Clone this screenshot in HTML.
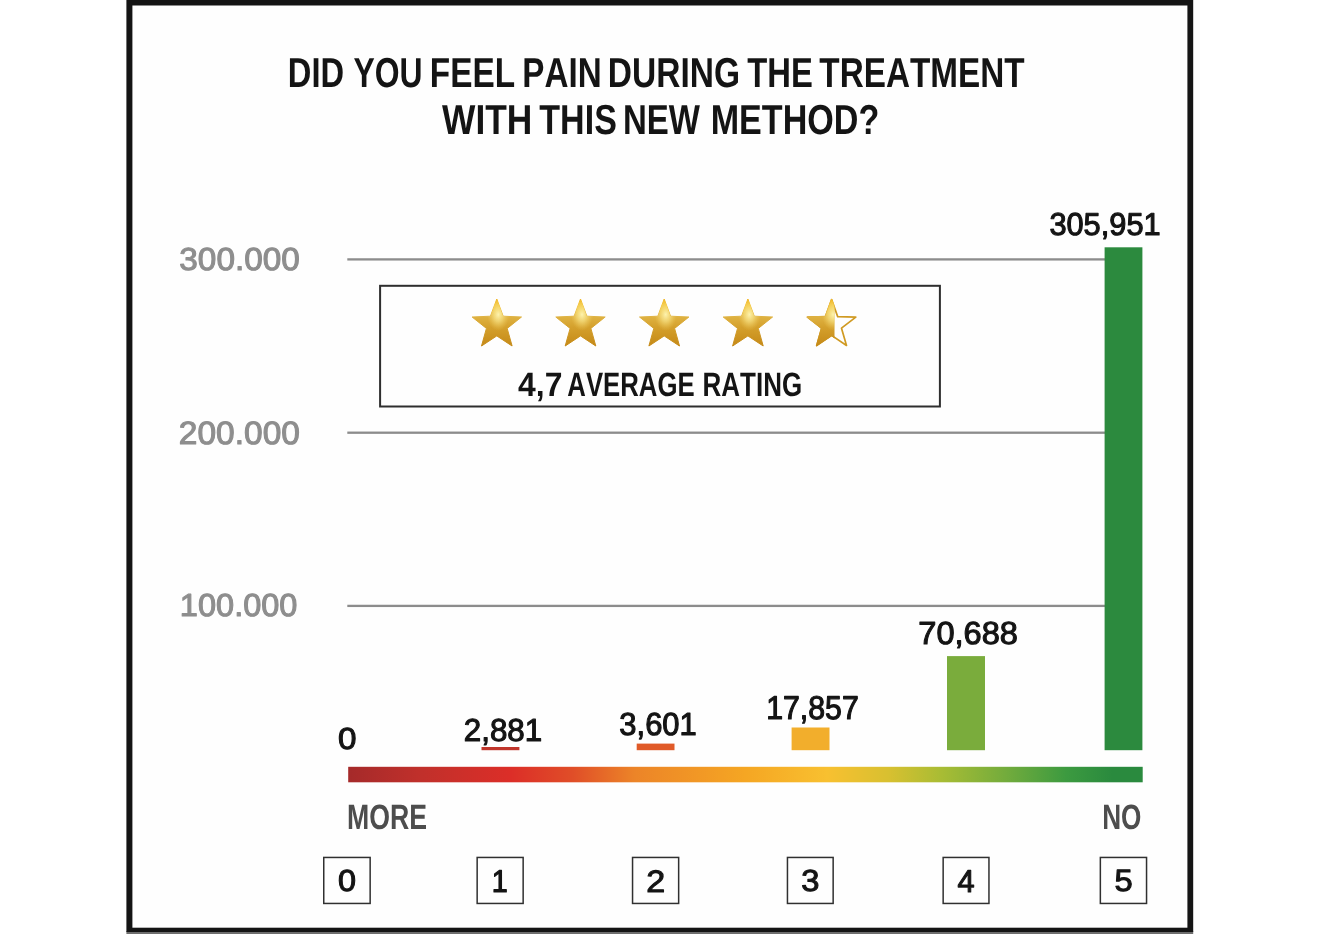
<!DOCTYPE html>
<html lang="en">
<head>
<meta charset="utf-8">
<title>Did you feel pain during the treatment with this new method?</title>
<style>
html,body{margin:0;padding:0;background:#fff;}
body{width:1320px;height:934px;overflow:hidden;}
svg{display:block;}
text{font-family:"Liberation Sans",sans-serif;font-size:40px;font-kerning:none;text-rendering:geometricPrecision;}
</style>
</head>
<body>
<svg width="1320" height="934" viewBox="0 0 1320 934">
<defs>
<linearGradient id="scale" x1="0" y1="0" x2="1" y2="0">
<stop offset="0" stop-color="#a52a2a"/>
<stop offset="0.09" stop-color="#c0302b"/>
<stop offset="0.205" stop-color="#dc2e28"/>
<stop offset="0.283" stop-color="#e04e28"/>
<stop offset="0.36" stop-color="#ec8428"/>
<stop offset="0.5" stop-color="#f5a623"/>
<stop offset="0.603" stop-color="#f8c030"/>
<stop offset="0.68" stop-color="#d8c030"/>
<stop offset="0.747" stop-color="#a8bc34"/>
<stop offset="0.826" stop-color="#74ac3c"/>
<stop offset="0.904" stop-color="#3c9a40"/>
<stop offset="0.962" stop-color="#2a8a3e"/>
<stop offset="1" stop-color="#2a8a3e"/>
</linearGradient>
<linearGradient id="gold" gradientUnits="userSpaceOnUse" x1="0" y1="298" x2="0" y2="347">
<stop offset="0" stop-color="#efb21c"/>
<stop offset="0.14" stop-color="#f3c236"/>
<stop offset="0.36" stop-color="#e0b444"/>
<stop offset="0.6" stop-color="#d4a02c"/>
<stop offset="1" stop-color="#c48816"/>
</linearGradient>
<radialGradient id="shine" cx="0.53" cy="0.33" r="0.3" gradientTransform="translate(0.53 0.33) scale(0.75 1.15) translate(-0.53 -0.33)">
<stop offset="0" stop-color="#fff6b4" stop-opacity="0.95"/>
<stop offset="0.45" stop-color="#fbe88c" stop-opacity="0.6"/>
<stop offset="1" stop-color="#f4d060" stop-opacity="0"/>
</radialGradient>
<filter id="soft" filterUnits="userSpaceOnUse" x="-20" y="-20" width="1360" height="974" color-interpolation-filters="sRGB"><feGaussianBlur stdDeviation="0.55"/></filter>
<clipPath id="half"><rect x="800" y="290" width="34.5" height="65"/></clipPath>
</defs>

<g filter="url(#soft)">
<rect x="-20" y="-20" width="1360" height="974" fill="#ffffff"/>
<rect x="126.4" y="931" width="1066.8" height="20" fill="#6e6e6e"/>
<rect x="126.4" y="-20" width="1066.8" height="952" fill="#141414"/>
<rect x="132.4" y="5.5" width="1055" height="922.2" fill="#fefefe"/>
<g>
<text transform="matrix(0.8167 0 0 1.0465 287.81 87.00)" font-weight="bold" fill="#141414">DID</text>
<text transform="matrix(0.7971 0 0 1.0465 353.46 87.00)" font-weight="bold" fill="#141414">YOU</text>
<text transform="matrix(0.8340 0 0 1.0465 429.77 87.00)" font-weight="bold" fill="#141414">FEEL</text>
<text transform="matrix(0.8304 0 0 1.0465 522.28 87.00)" font-weight="bold" fill="#141414">PAIN</text>
<text transform="matrix(0.8380 0 0 1.0465 607.76 87.00)" font-weight="bold" fill="#141414">DURING</text>
<text transform="matrix(0.8194 0 0 1.0465 747.23 87.00)" font-weight="bold" fill="#141414">THE</text>
<text transform="matrix(0.8321 0 0 1.0465 819.33 87.00)" font-weight="bold" fill="#141414">TREATMENT</text>
<text transform="matrix(0.8838 0 0 1.0465 442.07 134.00)" font-weight="bold" fill="#141414">WITH</text>
<text transform="matrix(0.8507 0 0 1.0465 539.32 134.00)" font-weight="bold" fill="#141414">THIS</text>
<text transform="matrix(0.8256 0 0 1.0465 622.99 134.00)" font-weight="bold" fill="#141414">NEW</text>
<text transform="matrix(0.8523 0 0 1.0465 710.72 134.00)" font-weight="bold" fill="#141414">METHOD?</text>
</g>
<rect x="347.3" y="258.25" width="758" height="2.3" fill="#8c8c8c"/>
<rect x="347.3" y="431.55" width="758" height="2.3" fill="#8c8c8c"/>
<rect x="347.3" y="604.75" width="758" height="2.3" fill="#8c8c8c"/>
<text transform="matrix(0.8339 0 0 0.7945 179.28 269.64)" font-weight="normal" fill="#8e8e8e" stroke="#8e8e8e" stroke-width="1.351" stroke-linejoin="round">300.000</text>
<text transform="matrix(0.8368 0 0 0.8086 178.87 443.63)" font-weight="normal" fill="#8e8e8e" stroke="#8e8e8e" stroke-width="1.337" stroke-linejoin="round">200.000</text>
<text transform="matrix(0.8130 0 0 0.7945 179.87 615.94)" font-weight="normal" fill="#8e8e8e" stroke="#8e8e8e" stroke-width="1.369" stroke-linejoin="round">100.000</text>
<rect x="380.1" y="285.8" width="559.8" height="120.7" fill="#fefefe" stroke="#2e2e2e" stroke-width="2"/>
<polygon points="496.8,299.0 503.2,316.2 521.5,317.0 507.2,328.4 512.1,346.0 496.8,335.9 481.5,346.0 486.4,328.4 472.1,317.0 490.4,316.2" fill="url(#gold)" stroke="url(#gold)" stroke-width="1" stroke-linejoin="round"/>
<polygon points="496.8,299.0 503.2,316.2 521.5,317.0 507.2,328.4 512.1,346.0 496.8,335.9 481.5,346.0 486.4,328.4 472.1,317.0 490.4,316.2" fill="url(#shine)"/>
<polygon points="580.5,299.0 586.9,316.2 605.2,317.0 590.9,328.4 595.8,346.0 580.5,335.9 565.2,346.0 570.1,328.4 555.8,317.0 574.1,316.2" fill="url(#gold)" stroke="url(#gold)" stroke-width="1" stroke-linejoin="round"/>
<polygon points="580.5,299.0 586.9,316.2 605.2,317.0 590.9,328.4 595.8,346.0 580.5,335.9 565.2,346.0 570.1,328.4 555.8,317.0 574.1,316.2" fill="url(#shine)"/>
<polygon points="664.2,299.0 670.6,316.2 688.9,317.0 674.6,328.4 679.5,346.0 664.2,335.9 648.9,346.0 653.8,328.4 639.5,317.0 657.8,316.2" fill="url(#gold)" stroke="url(#gold)" stroke-width="1" stroke-linejoin="round"/>
<polygon points="664.2,299.0 670.6,316.2 688.9,317.0 674.6,328.4 679.5,346.0 664.2,335.9 648.9,346.0 653.8,328.4 639.5,317.0 657.8,316.2" fill="url(#shine)"/>
<polygon points="747.9,299.0 754.3,316.2 772.6,317.0 758.3,328.4 763.2,346.0 747.9,335.9 732.6,346.0 737.5,328.4 723.2,317.0 741.5,316.2" fill="url(#gold)" stroke="url(#gold)" stroke-width="1" stroke-linejoin="round"/>
<polygon points="747.9,299.0 754.3,316.2 772.6,317.0 758.3,328.4 763.2,346.0 747.9,335.9 732.6,346.0 737.5,328.4 723.2,317.0 741.5,316.2" fill="url(#shine)"/>
<polygon points="831.6,299.6 837.7,316.6 855.8,317.2 841.5,328.2 846.5,345.5 831.6,335.4 816.7,345.5 821.7,328.2 807.4,317.2 825.5,316.6" fill="#fefefe" stroke="#d09a22" stroke-width="1.7" stroke-linejoin="round"/>
<g clip-path="url(#half)"><polygon points="831.6,299.0 838.0,316.2 856.3,317.0 842.0,328.4 846.9,346.0 831.6,335.9 816.3,346.0 821.2,328.4 806.9,317.0 825.2,316.2" fill="url(#gold)" stroke="url(#gold)" stroke-width="1" stroke-linejoin="round"/>
<polygon points="831.6,299.0 838.0,316.2 856.3,317.0 842.0,328.4 846.9,346.0 831.6,335.9 816.3,346.0 821.2,328.4 806.9,317.0 825.2,316.2" fill="url(#shine)"/></g>
<text transform="matrix(0.7964 0 0 0.8430 518.12 395.50)" font-weight="bold" fill="#141414">4,7</text>
<text transform="matrix(0.6433 0 0 0.8430 567.36 395.50)" font-weight="bold" fill="#141414">AVERAGE</text>
<text transform="matrix(0.6493 0 0 0.8430 702.56 395.50)" font-weight="bold" fill="#141414">RATING</text>
<rect x="481.5" y="747" width="37.9" height="3.2" fill="#c0352b"/>
<rect x="636.7" y="743.6" width="37.8" height="6.6" fill="#e05a28"/>
<rect x="791.6" y="727.5" width="37.9" height="22.7" fill="#f2ae2c"/>
<rect x="947" y="656.1" width="38.0" height="94.1" fill="#7aac3c"/>
<rect x="1104.6" y="247.3" width="37.8" height="502.9" fill="#2c8a3e"/>
<rect x="348.2" y="766.8" width="794.5" height="15.5" fill="url(#scale)"/>
<text transform="matrix(0.8315 0 0 0.7627 338.05 748.85)" font-weight="normal" fill="#141414" stroke="#141414" stroke-width="1.381" stroke-linejoin="round">0</text>
<text transform="matrix(0.7833 0 0 0.7945 463.77 740.64)" font-weight="normal" fill="#141414" stroke="#141414" stroke-width="1.394" stroke-linejoin="round">2,881</text>
<text transform="matrix(0.7731 0 0 0.7980 619.37 734.64)" font-weight="normal" fill="#141414" stroke="#141414" stroke-width="1.400" stroke-linejoin="round">3,601</text>
<text transform="matrix(0.7571 0 0 0.8227 766.14 719.33)" font-weight="normal" fill="#141414" stroke="#141414" stroke-width="1.394" stroke-linejoin="round">17,857</text>
<text transform="matrix(0.8140 0 0 0.7980 918.28 644.44)" font-weight="normal" fill="#141414" stroke="#141414" stroke-width="1.365" stroke-linejoin="round">70,688</text>
<text transform="matrix(0.7696 0 0 0.7910 1049.38 235.34)" font-weight="normal" fill="#141414" stroke="#141414" stroke-width="1.410" stroke-linejoin="round">305,951</text>
<text transform="matrix(0.6669 0 0 0.8794 347.02 829.40)" font-weight="bold" fill="#4d4d4d">MORE</text>
<text transform="matrix(0.6542 0 0 0.8794 1102.15 829.40)" font-weight="bold" fill="#4d4d4d">NO</text>
<rect x="323.75" y="857.45" width="46.40" height="46.00" fill="#fefefe" stroke="#303030" stroke-width="1.5"/>
<text transform="matrix(0.8106 0 0 0.7627 337.93 891.25)" font-weight="normal" fill="#141414" stroke="#141414" stroke-width="1.399" stroke-linejoin="round">0</text>
<rect x="477.15" y="857.45" width="46.00" height="46.00" fill="#fefefe" stroke="#303030" stroke-width="1.5"/>
<text transform="matrix(0.7190 0 0 0.7849 491.76 891.55)" font-weight="normal" fill="#141414" stroke="#141414" stroke-width="1.464" stroke-linejoin="round">1</text>
<rect x="632.55" y="857.45" width="46.10" height="46.00" fill="#fefefe" stroke="#303030" stroke-width="1.5"/>
<text transform="matrix(0.8506 0 0 0.7734 646.14 891.55)" font-weight="normal" fill="#141414" stroke="#141414" stroke-width="1.356" stroke-linejoin="round">2</text>
<rect x="787.45" y="857.45" width="45.70" height="46.00" fill="#fefefe" stroke="#303030" stroke-width="1.5"/>
<text transform="matrix(0.8173 0 0 0.7627 801.30 891.25)" font-weight="normal" fill="#141414" stroke="#141414" stroke-width="1.393" stroke-linejoin="round">3</text>
<rect x="943.15" y="857.45" width="45.80" height="46.00" fill="#fefefe" stroke="#303030" stroke-width="1.5"/>
<text transform="matrix(0.7690 0 0 0.7849 957.59 891.55)" font-weight="normal" fill="#141414" stroke="#141414" stroke-width="1.416" stroke-linejoin="round">4</text>
<rect x="1100.35" y="857.45" width="46.20" height="46.00" fill="#fefefe" stroke="#303030" stroke-width="1.5"/>
<text transform="matrix(0.8173 0 0 0.7739 1114.39 891.25)" font-weight="normal" fill="#141414" stroke="#141414" stroke-width="1.383" stroke-linejoin="round">5</text>
</g>
</svg>
</body>
</html>
